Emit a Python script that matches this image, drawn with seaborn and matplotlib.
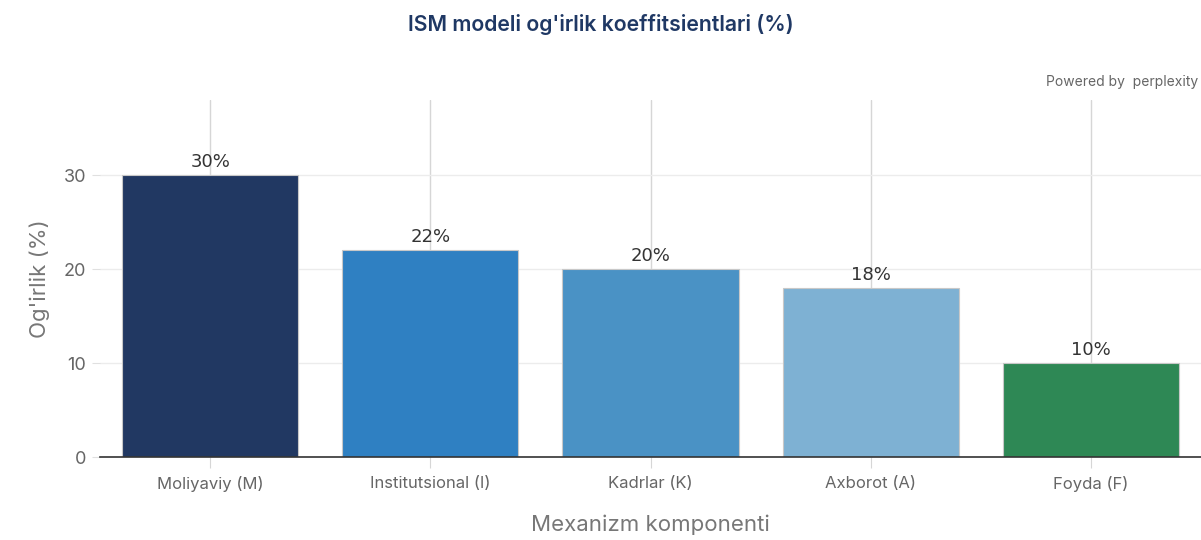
import seaborn as sns
import matplotlib.pyplot as plt
import pandas as pd

sns.set_style("white")
plt.rcParams['font.family'] = ['Inter', 'DejaVu Sans']

categories = ["Moliyaviy (M)", "Institutsional (I)", "Kadrlar (K)", "Axborot (A)", "Foyda (F)"]
weights = [30, 22, 20, 18, 10]
colors = ["#213862", "#2F80C2", "#4A92C5", "#7EB1D3", "#2E8855"]

df = pd.DataFrame({"komponent": categories, "vazn": weights})

fig = plt.figure(figsize=(12.01, 5.4), dpi=100)
ax = fig.add_axes([0.0833, 0.1537, 0.9167, 0.6613])

sns.barplot(data=df, x="komponent", y="vazn", hue="komponent", palette=colors, saturation=1,
            legend=False, width=0.8, edgecolor="#c8c8c8", linewidth=0.8, ax=ax, zorder=3)

ax.set_xlim(-0.5, 4.5)
ax.set_ylim(0, 38)
ax.set_yticks([0, 10, 20, 30])

ax.grid(axis="y", color="#ececec", linewidth=1, zorder=0)
ax.grid(axis="x", color="#d6d6d6", linewidth=1, zorder=0)
ax.set_axisbelow(True)

for s in ["top", "right", "left"]:
    ax.spines[s].set_visible(False)
ax.spines["bottom"].set_color("#333333")
ax.spines["bottom"].set_linewidth(1.2)
ax.spines["bottom"].set_zorder(4)

ax.tick_params(axis="y", left=True, length=6, color="#e0e0e0", labelsize=13, labelcolor="#666666", pad=4)
ax.tick_params(axis="x", bottom=True, length=8, color="#d6d6d6", labelsize=12, labelcolor="#666666", pad=6)

for i, v in enumerate(weights):
    ax.text(i, v + 0.4, f"{v}%", ha="center", va="bottom", fontsize=13, color="#333333",
            family="DejaVu Sans", zorder=5)

ax.set_ylabel("Og'irlik (%)", fontsize=16, color="#777777", labelpad=10)
ax.set_xlabel("Mexanizm komponenti", fontsize=16, color="#777777", labelpad=16)

fig.text(0.5, 0.955, "ISM modeli og'irlik koeffitsientlari (%)", ha="center", va="center",
         fontsize=15.3, color="#1F3864", fontweight="semibold")
fig.text(0.998, 0.848, "Powered by  perplexity", ha="right", va="center", fontsize=10, color="#666666")

fig.savefig("out.png", dpi=100)
